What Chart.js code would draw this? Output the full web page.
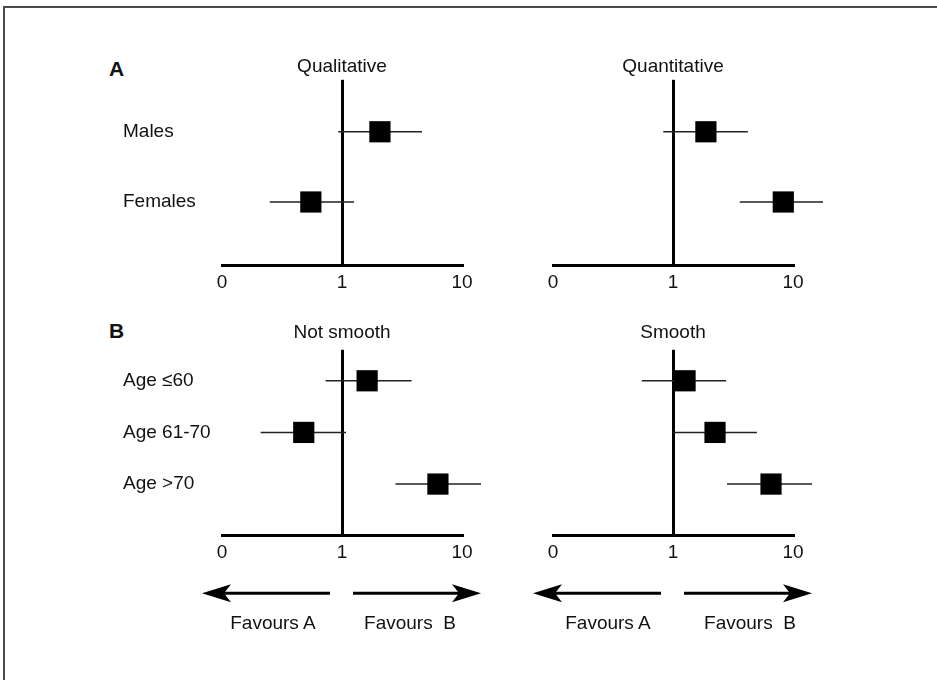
<!DOCTYPE html>
<html><head><meta charset="utf-8">
<script src="https://cdn.jsdelivr.net/npm/chart.js@4"></script>
<style>
html,body{margin:0;padding:0;background:#fff;}
body{width:937px;height:680px;position:relative;overflow:hidden;font-family:'Liberation Sans',Arial,sans-serif;color:#111;}
#frame{position:absolute;left:3px;top:6px;width:960px;height:700px;border-top:2px solid #4a4a4a;border-left:2px solid #4a4a4a;}
.wrap{position:absolute;}
.wrap canvas{display:block;}
.lbl{position:absolute;white-space:pre;font-size:19px;line-height:22px;transform:translate(-50%,-50%);}
.panel{position:absolute;font-weight:bold;font-size:21px;line-height:24px;}
</style></head>
<body>
<div id="frame"></div>
<div class="panel" style="left:109px;top:57px;">A</div>
<div class="panel" style="left:109px;top:319px;">B</div>
<div class="wrap" style="left:123px;top:40px;"><canvas id="c1" width="369" height="260"></canvas></div>
<div class="wrap" style="left:528px;top:40px;"><canvas id="c2" width="295" height="260"></canvas></div>
<div class="wrap" style="left:123px;top:300px;"><canvas id="c3" width="369" height="318"></canvas></div>
<div class="wrap" style="left:528px;top:300px;"><canvas id="c4" width="295" height="318"></canvas></div>
<div class="lbl" style="left:273px;top:623px;">Favours A</div>
<div class="lbl" style="left:410px;top:623px;">Favours  B</div>
<div class="lbl" style="left:608px;top:623px;">Favours A</div>
<div class="lbl" style="left:750px;top:623px;">Favours  B</div>
<script>
// ---- data (ratios; axis is logarithmic) ----
const tickValues = [0.1, 1, 10];
const tickLabels = ['0', '1', '10'];

const sexCategories = ['Males', 'Females'];
const ageCategories = ['Age ≤60', 'Age 61-70', 'Age >70'];

const panelTitles = ['Qualitative', 'Quantitative', 'Not smooth', 'Smooth'];

const qualitativeEst  = [2.07, 0.55];
const qualitativeLow  = [0.93, 0.25];
const qualitativeHigh = [4.64, 1.26];

const quantitativeEst  = [1.88, 8.3];
const quantitativeLow  = [0.83, 3.6];
const quantitativeHigh = [4.2, 18.5];

const notSmoothEst  = [1.62, 0.48, 6.3];
const notSmoothLow  = [0.73, 0.21, 2.79];
const notSmoothHigh = [3.8, 1.08, 14.4];

const smoothEst  = [1.26, 2.24, 6.56];
const smoothLow  = [0.55, 1.0, 2.82];
const smoothHigh = [2.77, 5.0, 14.4];

// ---- rendering ----
Chart.defaults.font.family = "'Liberation Sans', Arial, sans-serif";
Chart.defaults.font.size = 19;
Chart.defaults.color = '#111';

function drawArrow(ctx, x0, x1, y) {
  const dir = Math.sign(x1 - x0), L = 29, H = 9, N = 7;
  ctx.beginPath(); ctx.moveTo(x0, y); ctx.lineTo(x1 - dir * (L - N), y); ctx.stroke();
  ctx.beginPath(); ctx.moveTo(x1, y); ctx.lineTo(x1 - dir * L, y - H);
  ctx.lineTo(x1 - dir * (L - N), y); ctx.lineTo(x1 - dir * L, y + H); ctx.closePath(); ctx.fill();
}
const arrowPlugin = {
  id: 'favourArrows',
  afterDraw(chart, args, opts) {
    if (!opts || !opts.show) return;
    const ctx = chart.ctx, xs = chart.scales.x;
    const y = chart.chartArea.bottom + 58;
    const c = xs.getPixelForValue(1);
    ctx.save();
    ctx.strokeStyle = '#000'; ctx.fillStyle = '#000'; ctx.lineWidth = 3;
    drawArrow(ctx, c - 12, xs.left - 20, y);
    drawArrow(ctx, c + 11, xs.right + 19, y);
    ctx.restore();
  }
};

function makePanel(id, title, categories, est, low, high, showLabels, yMin, yMax, titlePad, padBottom, arrows) {
  const datasets = [];
  categories.forEach((c, i) => {
    datasets.push({
      data: [{x: low[i], y: i + 1}, {x: high[i], y: i + 1}],
      showLine: true, borderColor: '#222', borderWidth: 1.6,
      pointRadius: 0, clip: false, order: 2
    });
  });
  datasets.push({
    data: est.map((v, i) => ({x: v, y: i + 1})),
    pointStyle: 'rect', pointRadius: 15, backgroundColor: '#000',
    borderWidth: 0, clip: false, order: 1
  });
  new Chart(document.getElementById(id), {
    type: 'scatter',
    data: {datasets},
    plugins: [arrowPlugin],
    options: {
      responsive: false, animation: false, devicePixelRatio: 1, events: [],
      layout: {padding: {left: showLabels ? 0 : 25, right: 30, top: 0, bottom: padBottom}},
      plugins: {
        legend: {display: false}, tooltip: {enabled: false},
        title: {display: true, text: title, fullSize: false, color: '#111',
                font: {size: 19, weight: 'normal'}, padding: titlePad},
        favourArrows: {show: arrows}
      },
      scales: {
        x: {
          type: 'logarithmic', min: tickValues[0], max: tickValues[tickValues.length - 1],
          afterBuildTicks: s => { s.ticks = tickValues.map(v => ({value: v})); },
          ticks: {padding: 6, maxRotation: 0, autoSkip: false, color: '#111',
                  callback: v => tickLabels[tickValues.indexOf(v)]},
          grid: {drawTicks: false, lineWidth: 3,
                 color: ctx => (ctx.tick && ctx.tick.value === 1) ? '#000' : 'rgba(0,0,0,0)'},
          border: {display: true, color: '#000', width: 3}
        },
        y: {
          type: 'linear', reverse: true, min: yMin, max: yMax, display: showLabels,
          afterBuildTicks: s => { s.ticks = categories.map((c, i) => ({value: i + 1})); },
          afterFit: s => { if (showLabels) s.width = 99; },
          ticks: {crossAlign: 'far', padding: 0, autoSkip: false, color: '#111',
                  callback: v => categories[v - 1]},
          grid: {display: false}, border: {display: false}
        }
      }
    }
  });
}

makePanel('c1', panelTitles[0], sexCategories, qualitativeEst, qualitativeLow, qualitativeHigh, true, 0.26, 2.9, {top: 15, bottom: 2}, 0, false);
makePanel('c2', panelTitles[1], sexCategories, quantitativeEst, quantitativeLow, quantitativeHigh, false, 0.26, 2.9, {top: 15, bottom: 2}, 0, false);
makePanel('c3', panelTitles[2], ageCategories, notSmoothEst, notSmoothLow, notSmoothHigh, true, 0.4, 3.99, {top: 21, bottom: 6}, 48, true);
makePanel('c4', panelTitles[3], ageCategories, smoothEst, smoothLow, smoothHigh, false, 0.4, 3.99, {top: 21, bottom: 6}, 48, true);
</script>
</body></html>
